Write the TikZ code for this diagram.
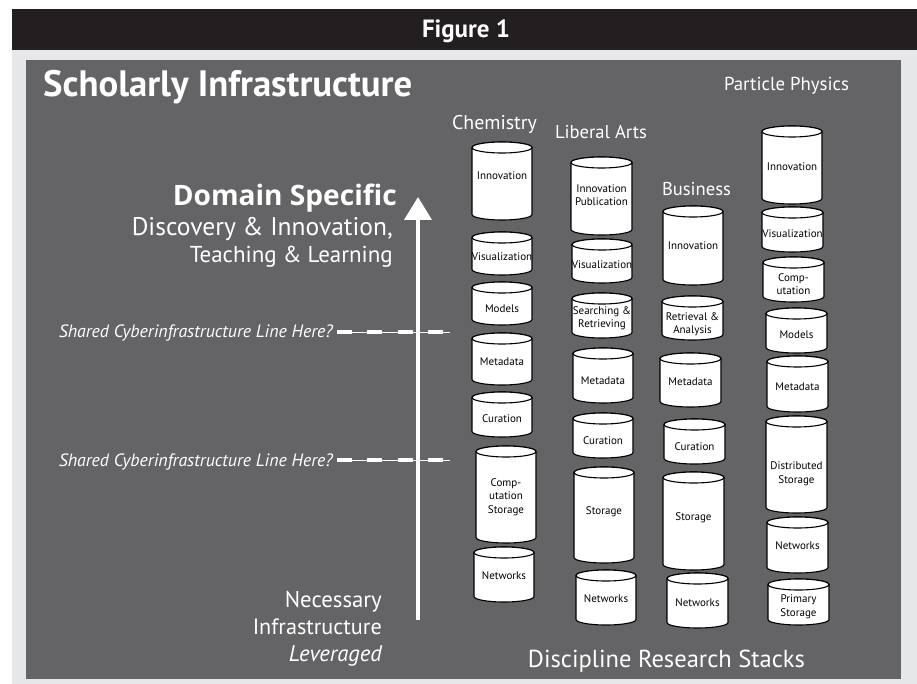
\documentclass[tikz,border=0pt]{standalone}
\usepackage{fontspec}
\usepackage{graphicx}
\setmainfont{PT Sans}
\newfontfamily\widefont{Open Sans}
\usetikzlibrary{arrows.meta}
\definecolor{barblack}{HTML}{231F20}
\definecolor{framegray}{HTML}{E6E7E8}
\definecolor{panelgray}{HTML}{646466}
% scale a piece of text to a given width (in pt)
\newcommand\fitw[2]{\resizebox{#1pt}{!}{#2}}
% storage cylinder: name, left x, right x, top y, bottom y, label y, label
\newcommand\dbcyl[7]{%
  \filldraw[cylline] (#2,#4+5.5) -- (#2,#5-5.5)
     arc[start angle=180,end angle=0,x radius={(#3-#2)/2},y radius=5.5]
     -- (#3,#4+5.5)
     arc[start angle=0,end angle=-180,x radius={(#3-#2)/2},y radius=5.5] -- cycle;
  \draw[cylline] ({(#2+#3)/2},#4+5.5) ellipse[x radius={(#3-#2)/2},y radius=5.5];
  \node[cyltext] (#1) at ({(#2+#3)/2},#6) {#7};%
}
\begin{document}
\begin{tikzpicture}[x=1pt,y=-1pt,
  cylline/.style={draw=black,fill=white,line width=1.1pt},
  cyltext/.style={font=\fontsize{11}{13.5}\selectfont,align=center,inner sep=0pt,text=black},
  wlabel/.style={text=white,inner sep=0pt},
  cutline/.style={draw=white,line width=1pt},
  cutdash/.style={draw=white,line width=4pt,dash pattern=on 15pt off 15.3pt},
]
\useasboundingbox (0,0) rectangle (917,684);
\fill[white] (0,0) rectangle (917,684);
\fill[framegray] (12,50) rectangle (917,684);
\fill[barblack] (12,9) rectangle (917,50);
\fill[panelgray] (26,60) rectangle (901,679);

% headings
\node[wlabel,anchor=base] (fig) at (466,38) {\fitw{88}{\bfseries Figure 1}};
\node[wlabel,anchor=base west] (title) at (43,97) {\fitw{369}{\bfseries Scholarly Infrastructure}};
\node[wlabel,anchor=base] (colpp) at (786.5,91) {\fitw{125}{Particle Physics}};
\node[wlabel,anchor=base] (colch) at (494.5,130) {\fitw{85}{Chemistry}};
\node[wlabel,anchor=base] (colla) at (601,139) {\fitw{92}{Liberal Arts}};
\node[wlabel,anchor=base] (colbu) at (696.5,196) {\fitw{69}{Business}};
\node[wlabel,anchor=base] (stacks) at (666.5,667) {\fitw{277}{Discipline Research Stacks}};

% left-hand axis labels
\node[wlabel,anchor=base east] (dom) at (397,206) {\fitw{224}{\widefont\bfseries Domain Specific}};
\node[wlabel,anchor=base east] (disc) at (393,236) {\fitw{261}{Discovery \& Innovation,}};
\node[wlabel,anchor=base east] (teach) at (393,263) {\fitw{203}{Teaching \& Learning}};
\node[wlabel,anchor=base east] (nec) at (382,607) {\fitw{97}{Necessary}};
\node[wlabel,anchor=base east] (infra) at (382,634) {\fitw{129}{Infrastructure}};
\node[wlabel,anchor=base east] (lev) at (382,661) {\fitw{93}{\itshape Leveraged}};

% vertical axis arrow
\coordinate (lowend) at (418,620);
\coordinate (highend) at (418,197);
\draw[white,line width=4pt,-{Triangle[width=27pt,length=23pt]}] (lowend) -- (highend);

% candidate cut lines
\node[wlabel,anchor=base east] (cut1) at (333,337) {\fitw{274}{\itshape Shared Cyberinfrastructure Line Here?}};
\node[wlabel,anchor=base east] (cut2) at (333,466) {\fitw{274}{\itshape Shared Cyberinfrastructure Line Here?}};
\coordinate (c1a) at (337,332); \coordinate (c1b) at (450,332); \coordinate (c1c) at (443,332);
\coordinate (c2a) at (337,460); \coordinate (c2b) at (450,460); \coordinate (c2c) at (443,460);
\draw[cutline] (c1a) -- (c1b);
\draw[cutdash] (c1a) -- (c1c);
\draw[cutline] (c2a) -- (c2b);
\draw[cutdash] (c2a) -- (c2c);

% Chemistry stack
\dbcyl{ch1}{472}{532}{142}{220}{176}{Innovation}
\dbcyl{ch2}{472}{532}{232}{275}{257}{Visualization}
\dbcyl{ch3}{472}{532}{282}{325}{309}{Models}
\dbcyl{ch4}{472}{532}{333}{385}{362}{Metadata}
\dbcyl{ch5}{472}{532}{392}{437}{419}{Curation}
\dbcyl{ch6}{476}{536}{446}{543}{497}{Comp-\\utation\\Storage}
\dbcyl{ch7}{474}{534}{547}{602}{576}{Networks}

% Liberal Arts stack
\dbcyl{la1}{571}{632}{157}{235}{195}{Innovation\\Publication}
\dbcyl{la2}{572}{632}{239}{283}{265}{Visualization}
\dbcyl{la3}{572}{632}{293}{338}{318}{Searching \&\\Retrieving}
\dbcyl{la4}{573}{633}{348}{403}{381}{Metadata}
\dbcyl{la5}{573}{633}{413}{458}{441}{Curation}
\dbcyl{la6}{574}{634}{467}{563}{512}{Storage}
\dbcyl{la7}{576}{636}{570}{625}{599}{Networks}

% Business stack
\dbcyl{bu1}{663}{723}{206}{285}{246}{Innovation}
\dbcyl{bu2}{662}{723}{296}{340}{324}{Retrieval \&\\Analysis}
\dbcyl{bu3}{660}{721}{353}{407}{382}{Metadata}
\dbcyl{bu4}{664}{725}{419}{464}{447}{Curation}
\dbcyl{bu5}{663}{724}{472}{570}{518}{Storage}
\dbcyl{bu6}{667}{728}{573}{628}{603}{Networks}

% Particle Physics stack
\dbcyl{pp1}{762}{822}{126}{204}{167}{Innovation}
\dbcyl{pp2}{762}{823}{207}{252}{234}{Visualization}
\dbcyl{pp3}{763}{824}{257}{302}{284}{Comp-\\utation}
\dbcyl{pp4}{766}{827}{308}{353}{335}{Models}
\dbcyl{pp5}{767}{828}{356}{412}{387}{Metadata}
\dbcyl{pp6}{766}{827}{416}{513}{474}{Distributed\\Storage}
\dbcyl{pp7}{767}{828}{517}{573}{546}{Networks}
\dbcyl{pp8}{768}{829}{579}{625}{607}{Primary\\Storage}
\end{tikzpicture}
\end{document}
